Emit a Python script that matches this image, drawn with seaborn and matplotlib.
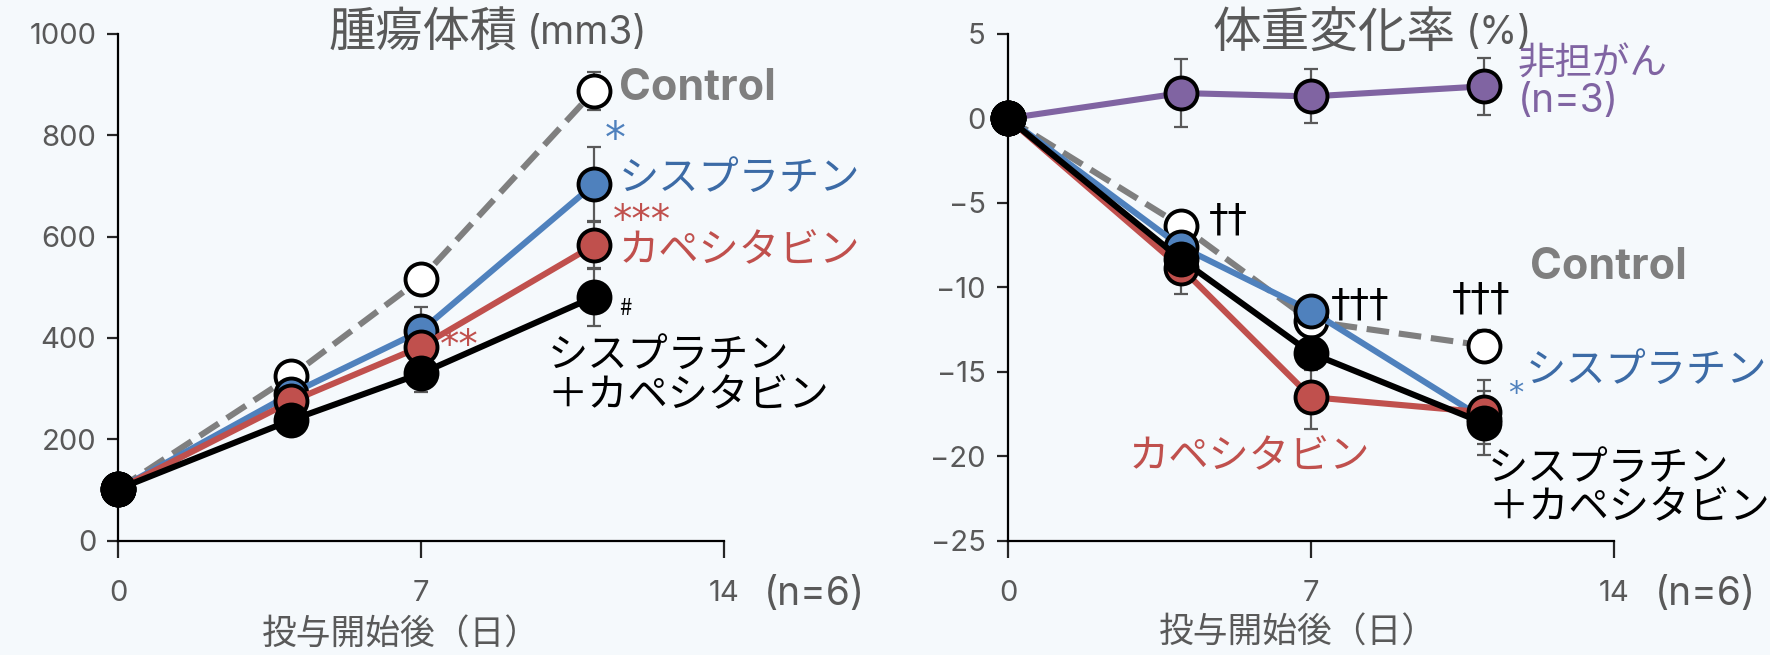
import matplotlib
matplotlib.use("Agg")
import matplotlib.pyplot as plt
import seaborn as sns
import pandas as pd

# days of measurement
days = [0, 4, 7, 11]

# tumour volume (mm3) with SE
tum_ctrl = [102, 325, 517, 887]
tum_ctrl_se = [0, 10, 10, 37]
tum_cis = [102, 290, 414, 703]
tum_cis_se = [0, 12, 47, 73]
tum_cap = [102, 275, 383, 583]
tum_cap_se = [0, 12, 20, 46]
tum_combo = [102, 238, 330, 481]
tum_combo_se = [0, 30, 36, 58]

# body weight change (%) with SE
bw_normal = [0, 1.5, 1.3, 1.9]
bw_normal_se = [0, 2.0, 1.6, 1.7]
bw_ctrl = [0, -6.35, -12.0, -13.45]
bw_ctrl_se = [0, 0.4, 0.5, 0.9]
bw_cis = [0, -7.6, -11.4, -17.8]
bw_cis_se = [0, 0.6, 0.5, 0.8]
bw_cap = [0, -8.85, -16.5, -17.4]
bw_cap_se = [0, 1.55, 1.9, 1.9]
bw_combo = [0, -8.35, -13.9, -18.05]
bw_combo_se = [0, 1.0, 1.0, 1.9]

BLUE = "#4F81BD"
RED = "#C0504D"
PURPLE = "#8064A2"
GRAY = "#7F7F7F"
TXT = "#595959"
BG = "#F5F9FC"
NUMFONT = 'Inter'

sns.set_style("ticks")
plt.rcParams['font.family'] = ['Noto Sans CJK JP', 'DejaVu Sans']

fig = plt.figure(figsize=(17.7, 6.55), dpi=100, facecolor=BG)
ax1 = fig.add_axes([0.0669, 0.1745, 0.3419, 0.7737])
ax2 = fig.add_axes([0.5695, 0.1745, 0.3424, 0.7737])


def draw(ax, vals, se, color, face, ls='-'):
    df = pd.DataFrame({'day': days, 'val': vals})
    ax.errorbar(days, vals, yerr=se, fmt='none', ecolor=TXT, elinewidth=1.6,
                capsize=5, capthick=1.6, zorder=1, clip_on=False)
    sns.lineplot(data=df, x='day', y='val', ax=ax, color=color, lw=4.4,
                 linestyle=ls, marker='o', markersize=23,
                 markerfacecolor=face, markeredgecolor='black',
                 markeredgewidth=2.8, clip_on=False, zorder=3)


# left panel
draw(ax1, tum_ctrl, tum_ctrl_se, GRAY, 'white', '--')
draw(ax1, tum_cis, tum_cis_se, BLUE, BLUE)
draw(ax1, tum_cap, tum_cap_se, RED, RED)
draw(ax1, tum_combo, tum_combo_se, 'black', 'black')

# right panel
draw(ax2, bw_normal, bw_normal_se, PURPLE, PURPLE)
draw(ax2, bw_ctrl, bw_ctrl_se, GRAY, 'white', '--')
draw(ax2, bw_cis, bw_cis_se, BLUE, BLUE)
draw(ax2, bw_cap, bw_cap_se, RED, RED)
draw(ax2, bw_combo, bw_combo_se, 'black', 'black')

ax1.set_ylim(0, 1000)
ax1.set_yticks(range(0, 1001, 200))
ax2.set_ylim(-25, 5)
ax2.set_yticks(range(-25, 6, 5))
ax2.set_yticklabels([str(v).replace('-', '−') for v in range(-25, 6, 5)])

for ax in (ax1, ax2):
    ax.set_facecolor(BG)
    ax.set_xlim(0, 14)
    ax.set_xticks([0, 7, 14])
    ax.set_xlabel('')
    ax.set_ylabel('')
    for s in ('top', 'right'):
        ax.spines[s].set_visible(False)
    for s in ('left', 'bottom'):
        ax.spines[s].set_linewidth(1.6)
        ax.spines[s].set_color('black')
    ax.tick_params(axis='x', length=12, width=1.6, pad=16, labelsize=21, labelcolor=TXT)
    ax.tick_params(axis='y', length=8, width=1.6, pad=8, labelsize=21, labelcolor=TXT)
    for lab in ax.get_xticklabels() + ax.get_yticklabels():
        lab.set_family(NUMFONT)

# titles
ax1.text(0.659, 1.0, '腫瘍体積', transform=ax1.transAxes, ha='right', va='center',
         fontsize=34, color=TXT)
ax1.text(0.675, 1.0, '(mm3)', transform=ax1.transAxes, ha='left', va='center',
         fontsize=28, color=TXT, family=NUMFONT)
ax2.text(0.739, 1.0, '体重変化率', transform=ax2.transAxes, ha='right', va='center',
         fontsize=35, color=TXT)
ax2.text(0.755, 1.0, '(%)', transform=ax2.transAxes, ha='left', va='center',
         fontsize=28, color=TXT, family=NUMFONT)

# x labels and n
for ax, xc, ylab, yn in ((ax1, 6.53, -186, -107), (ax2, 6.70, -30.5, -28.2)):
    ax.text(xc, ylab, '投与開始後（日）', ha='center', va='center', fontsize=25,
            color=TXT, clip_on=False)
    ax.text(16.1, yn, '(n=6)', ha='center', va='center', fontsize=28,
            color=TXT, family=NUMFONT, clip_on=False)

# left annotations
ax1.text(11.58, 893, 'Control', ha='left', va='center', fontsize=31,
         fontweight='bold', color=GRAY, family=NUMFONT)
ax1.text(11.49, 790, '*', ha='center', va='center', fontsize=30, color=BLUE,
         family='DejaVu Sans')
ax1.text(11.58, 715, 'シスプラチン', ha='left', va='center', fontsize=29, color='#3C6BA6')
ax1.text(11.44, 630, '***', ha='left', va='center', fontsize=28, color=RED,
         family='DejaVu Sans')
ax1.text(11.58, 572, 'カペシタビン', ha='left', va='center', fontsize=29, color=RED)
ax1.text(11.58, 458, '#', ha='left', va='center', fontsize=16, color='black')
ax1.text(7.44, 385, '**', ha='left', va='center', fontsize=28, color=RED,
         family='DejaVu Sans')
ax1.text(9.93, 365, 'シスプラチン', ha='left', va='center', fontsize=29, color='black')
ax1.text(9.93, 287, '＋カペシタビン', ha='left', va='center', fontsize=29, color='black')

# right annotations
ax2.text(11.78, 3.2, '非担がん', ha='left', va='center', fontsize=27, color=PURPLE)
ax2.text(11.78, 1.0, '(n=3)', ha='left', va='center', fontsize=28, color=PURPLE,
         family=NUMFONT)
ax2.text(12.05, -8.83, 'Control', ha='left', va='center', fontsize=31,
         fontweight='bold', color=GRAY, family=NUMFONT)
ax2.text(11.97, -14.9, 'シスプラチン', ha='left', va='center', fontsize=29, color='#3C6BA6')
ax2.text(11.73, -16.3, '*', ha='center', va='center', fontsize=22, color=BLUE,
         family='DejaVu Sans')
ax2.text(2.79, -20.05, 'カペシタビン', ha='left', va='center', fontsize=29, color=RED)
ax2.text(11.09, -20.73, 'シスプラチン', ha='left', va='center', fontsize=29, color='black')
ax2.text(11.09, -23.07, '＋カペシタビン', ha='left', va='center', fontsize=29, color='black')
ax2.text(5.08, -6.02, '††', ha='center', va='center', fontsize=28, color='black',
         family='DejaVu Sans')
ax2.text(8.13, -11.05, '†††', ha='center', va='center', fontsize=28, color='black',
         family='DejaVu Sans')
ax2.text(10.93, -10.7, '†††', ha='center', va='center', fontsize=28, color='black',
         family='DejaVu Sans')

fig.savefig('out.png', dpi=100, facecolor=BG)
